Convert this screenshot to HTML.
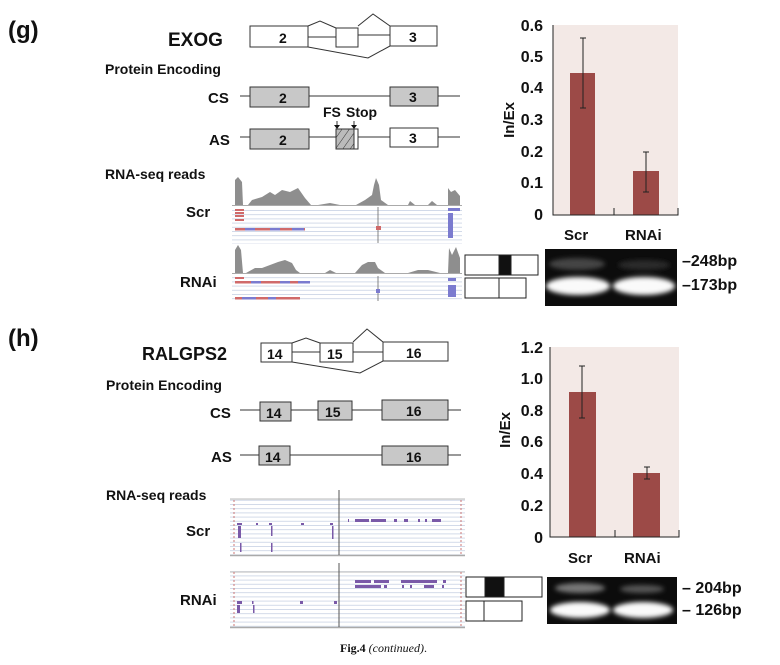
<!DOCTYPE html>
<html><head><meta charset="utf-8"><style>
html,body{margin:0;padding:0;background:#fff}
svg{display:block}
text{font-family:"Liberation Sans",Arial,sans-serif;font-weight:bold;fill:#111}
</style></head><body>
<svg width="780" height="665" viewBox="0 0 780 665" xmlns="http://www.w3.org/2000/svg">
<defs>
<pattern id="hl" width="10" height="4.2" patternUnits="userSpaceOnUse"><rect width="10" height="4.2" fill="#fff"/><line x1="0" y1="0.5" x2="10" y2="0.5" stroke="#c8d2e4" stroke-width="0.8"/></pattern>
<pattern id="hatch" width="6" height="6" patternUnits="userSpaceOnUse" patternTransform="rotate(35)"><rect width="6" height="6" fill="#bbb"/><line x1="0" y1="0" x2="0" y2="6" stroke="#333" stroke-width="1"/></pattern>
<filter id="blur" x="-30%" y="-80%" width="160%" height="260%"><feGaussianBlur stdDeviation="2.5"/></filter>
</defs>

<!-- (g) -->
<text x="8" y="38" font-size="24">(g)</text>
<text x="168" y="46" font-size="19">EXOG</text>
<g stroke="#333" stroke-width="1" fill="#fff">
<rect x="250" y="26" width="58" height="21"/>
<rect x="336" y="28" width="22" height="19"/>
<rect x="390" y="26" width="47" height="20"/>
<polyline fill="none" points="308,26 320,21 336,28"/>
<line x1="308" y1="37" x2="336" y2="37"/><line x1="358" y1="35" x2="390" y2="35"/>
<polyline fill="none" points="358,26 373,14 390,26"/>
<polyline fill="none" points="308,47 368,58 390,46"/>
</g>
<text x="105" y="74" font-size="14">Protein Encoding</text>
<text x="208" y="103" font-size="15">CS</text>
<text x="209" y="145" font-size="15">AS</text>
<g stroke="#333" stroke-width="1">
<line x1="240" y1="96" x2="460" y2="96"/>
<rect x="250" y="87" width="59" height="20" fill="#c8c8c8"/>
<rect x="390" y="87" width="48" height="19" fill="#c8c8c8"/>
<line x1="240" y1="137" x2="460" y2="137"/>
<rect x="250" y="129" width="59" height="20" fill="#c8c8c8"/>
<rect x="336" y="129" width="22" height="20" fill="#fff"/>
<rect x="336" y="129" width="18" height="20" fill="url(#hatch)"/>
<rect x="390" y="128" width="48" height="19" fill="#fff"/>
<line x1="337" y1="121" x2="337" y2="127"/><line x1="354" y1="121" x2="354" y2="127"/>
</g>
<polygon points="334,125 340,125 337,129" fill="#111"/><polygon points="351,125 357,125 354,129" fill="#111"/>
<text x="279" y="103" font-size="14">2</text><text x="409" y="102" font-size="14">3</text>
<text x="279" y="145" font-size="14">2</text><text x="409" y="143" font-size="14">3</text>
<text x="279" y="43" font-size="14">2</text><text x="409" y="42" font-size="14">3</text>
<text x="323" y="117" font-size="14">FS</text><text x="346" y="117" font-size="14">Stop</text>
<text x="105" y="179" font-size="14">RNA-seq reads</text>
<text x="186" y="217" font-size="15">Scr</text>
<text x="180" y="287" font-size="15">RNAi</text>

<!-- IGV g -->
<rect x="232" y="207" width="230" height="37" fill="url(#hl)"/>
<rect x="232" y="276" width="230" height="26" fill="url(#hl)"/>
<g fill="#8e8e8e">
<polygon points="235,205 235,180 238,177 242,182 243,205"/>
<polygon points="248,205 252,200 262,197 270,192 275,195 282,190 290,192 298,188 305,198 311,205"/>
<polygon points="318,205 330,203 340,205"/>
<polygon points="356,205 365,200 372,195 374,185 376,178 379,185 381,200 388,205"/>
<polygon points="408,205 410,201 415,205"/><polygon points="428,205 432,201 437,205"/>
<polygon points="448,205 448,188 451,192 455,190 460,196 460,205"/>
<polygon points="235,273 235,250 238,245 241,250 243,273"/>
<polygon points="246,273 255,268 262,268 270,265 278,262 285,260 292,263 296,270 300,273"/>
<polygon points="325,273 330,270 336,273"/><polygon points="355,273 362,265 368,262 375,262 378,268 385,273"/>
<polygon points="408,273 418,270 428,270 440,273"/>
<polygon points="448,273 449,248 452,255 456,247 460,258 460,273"/>
</g>
<line x1="232" y1="205.5" x2="462" y2="205.5" stroke="#aaa"/><line x1="232" y1="273.5" x2="462" y2="273.5" stroke="#aaa"/>
<line x1="378" y1="207" x2="378" y2="243" stroke="#666" stroke-width="0.8"/>
<line x1="378" y1="276" x2="378" y2="301" stroke="#666" stroke-width="0.8"/>
<g fill="#d06a6a">
<rect x="235" y="209" width="9" height="2"/><rect x="235" y="212" width="9" height="2"/><rect x="235" y="215" width="9" height="2"/><rect x="235" y="219" width="9" height="2"/>
<rect x="235" y="228" width="70" height="2.5"/><rect x="376" y="226" width="5" height="4"/>
<rect x="235" y="277" width="9" height="2"/><rect x="235" y="281" width="75" height="2.5"/><rect x="235" y="297" width="65" height="2.5"/>
</g>
<g fill="#7b7bcf">
<rect x="245" y="228" width="10" height="2.5"/><rect x="270" y="228" width="10" height="2.5"/><rect x="292" y="228" width="12" height="2.5"/>
<rect x="251" y="281" width="10" height="2.5"/><rect x="280" y="281" width="10" height="2.5"/><rect x="298" y="281" width="12" height="2.5"/>
<rect x="242" y="297" width="14" height="2.5"/><rect x="268" y="297" width="8" height="2.5"/><rect x="376" y="289" width="4" height="4"/>
<rect x="448" y="208" width="12" height="3"/><rect x="448" y="278" width="8" height="3"/><rect x="448" y="285" width="8" height="12"/>
<rect x="448" y="213" width="5" height="25"/>
</g>

<!-- chart g -->
<rect x="553" y="25" width="125" height="190" fill="#f3e9e6"/>
<g font-size="16">
<text x="543" y="31" text-anchor="end">0.6</text><text x="543" y="62" text-anchor="end">0.5</text>
<text x="543" y="93" text-anchor="end">0.4</text><text x="543" y="125" text-anchor="end">0.3</text>
<text x="543" y="157" text-anchor="end">0.2</text><text x="543" y="188" text-anchor="end">0.1</text>
<text x="543" y="220" text-anchor="end">0</text>
</g>
<text transform="translate(514,120) rotate(-90)" font-size="15" text-anchor="middle">In/Ex</text>
<rect x="570" y="73" width="25" height="142" fill="#9c4a47"/>
<rect x="633" y="171" width="26" height="44" fill="#9c4a47"/>
<g stroke="#222" stroke-width="1">
<line x1="583" y1="38" x2="583" y2="108"/><line x1="580" y1="38" x2="586" y2="38"/><line x1="580" y1="108" x2="586" y2="108"/>
<line x1="646" y1="152" x2="646" y2="192"/><line x1="643" y1="152" x2="649" y2="152"/><line x1="643" y1="192" x2="649" y2="192"/>
<polyline fill="none" points="553,25 553,215 678,215 678,208"/><line x1="614" y1="215" x2="614" y2="208"/>
</g>
<text x="564" y="240" font-size="15">Scr</text><text x="625" y="240" font-size="15">RNAi</text>
<rect x="545" y="249" width="132" height="57" fill="#0c0c0c"/>
<g filter="url(#blur)">
<ellipse cx="577" cy="264" rx="28" ry="6" fill="#444"/><ellipse cx="644" cy="265" rx="26" ry="5" fill="#2a2a2a"/>
<ellipse cx="578" cy="286" rx="32" ry="9" fill="#fafafa"/><ellipse cx="644" cy="286" rx="31" ry="9" fill="#fafafa"/>
</g>
<text x="682" y="266" font-size="16">–248bp</text><text x="682" y="290" font-size="16">–173bp</text>
<g stroke="#222" stroke-width="1" fill="#fff">
<rect x="465" y="255" width="73" height="20"/><rect x="499" y="255" width="12" height="20" fill="#111"/>
<rect x="465" y="278" width="61" height="20"/><line x1="499" y1="278" x2="499" y2="298"/>
</g>

<!-- (h) -->
<text x="8" y="346" font-size="24">(h)</text>
<text x="142" y="360" font-size="18">RALGPS2</text>
<g stroke="#333" stroke-width="1" fill="#fff">
<rect x="261" y="343" width="31" height="19"/><rect x="320" y="343" width="33" height="19"/><rect x="383" y="342" width="65" height="19"/>
<line x1="292" y1="352" x2="320" y2="352"/><line x1="353" y1="352" x2="383" y2="352"/>
<polyline fill="none" points="292,343 306,338 320,343"/>
<polyline fill="none" points="353,342 367,329 383,342"/>
<polyline fill="none" points="292,362 360,373 383,361"/>
</g>
<text x="267" y="359" font-size="14">14</text><text x="327" y="359" font-size="14">15</text><text x="406" y="358" font-size="14">16</text>
<text x="106" y="390" font-size="14">Protein Encoding</text>
<text x="210" y="418" font-size="15">CS</text><text x="211" y="462" font-size="15">AS</text>
<g stroke="#333" stroke-width="1" fill="#c8c8c8">
<line x1="240" y1="410" x2="461" y2="410"/><line x1="240" y1="455" x2="461" y2="455"/>
<rect x="260" y="402" width="31" height="19"/><rect x="318" y="401" width="34" height="19"/><rect x="382" y="400" width="66" height="20"/>
<rect x="259" y="446" width="31" height="19"/><rect x="382" y="446" width="66" height="19"/>
</g>
<text x="266" y="418" font-size="14">14</text><text x="325" y="417" font-size="14">15</text><text x="406" y="416" font-size="14">16</text>
<text x="265" y="462" font-size="14">14</text><text x="406" y="462" font-size="14">16</text>
<text x="106" y="500" font-size="14">RNA-seq reads</text>
<text x="186" y="536" font-size="15">Scr</text><text x="180" y="605" font-size="15">RNAi</text>

<!-- IGV h -->
<rect x="230" y="497" width="235" height="58" fill="url(#hl)"/>
<rect x="230" y="570" width="235" height="57" fill="url(#hl)"/>
<line x1="230" y1="555.5" x2="465" y2="555.5" stroke="#aaa" stroke-width="1.5"/>
<line x1="230" y1="627.5" x2="465" y2="627.5" stroke="#aaa" stroke-width="1.5"/>
<line x1="230" y1="499" x2="465" y2="499" stroke="#bbb"/><line x1="230" y1="572" x2="465" y2="572" stroke="#bbb"/>
<line x1="339" y1="490" x2="339" y2="555" stroke="#555"/><line x1="339" y1="563" x2="339" y2="627" stroke="#555"/>
<line x1="234" y1="500" x2="234" y2="555" stroke="#c77" stroke-dasharray="2,2"/><line x1="234" y1="572" x2="234" y2="627" stroke="#c77" stroke-dasharray="2,2"/>
<line x1="461" y1="500" x2="461" y2="555" stroke="#c77" stroke-dasharray="2,2"/><line x1="461" y1="572" x2="461" y2="627" stroke="#c77" stroke-dasharray="2,2"/>
<g fill="#7a5aa8">
<rect x="348" y="519" width="1" height="3"/><rect x="355" y="519" width="14" height="3"/><rect x="371" y="519" width="15" height="3"/><rect x="394" y="519" width="3" height="3"/><rect x="404" y="519" width="4" height="3"/><rect x="418" y="519" width="2" height="3"/><rect x="425" y="519" width="2" height="3"/><rect x="432" y="519" width="9" height="3"/>
<rect x="237" y="523" width="5" height="2"/><rect x="256" y="523" width="2" height="2"/><rect x="269" y="523" width="3" height="2"/><rect x="301" y="523" width="3" height="2"/><rect x="330" y="523" width="3" height="2"/>
<rect x="238" y="526" width="3" height="12"/><rect x="271" y="526" width="1.5" height="10"/><rect x="332" y="526" width="1.5" height="13"/>
<rect x="240" y="543" width="1.5" height="9"/><rect x="271" y="543" width="1.5" height="9"/>
<rect x="355" y="580" width="16" height="3"/><rect x="374" y="580" width="15" height="3"/><rect x="401" y="580" width="36" height="3"/><rect x="443" y="580" width="3" height="3"/>
<rect x="355" y="585" width="26" height="3"/><rect x="384" y="585" width="3" height="3"/><rect x="402" y="585" width="2" height="3"/><rect x="410" y="585" width="2" height="3"/><rect x="424" y="585" width="10" height="3"/><rect x="442" y="585" width="2" height="3"/>
<rect x="237" y="601" width="5" height="3"/><rect x="252" y="601" width="1.5" height="3"/><rect x="300" y="601" width="3" height="3"/><rect x="334" y="601" width="3" height="3"/>
<rect x="237" y="605" width="3" height="8"/><rect x="253" y="605" width="1.5" height="8"/>
</g>

<!-- chart h -->
<rect x="550" y="347" width="129" height="190" fill="#f3e9e6"/>
<g font-size="16">
<text x="543" y="353" text-anchor="end">1.2</text><text x="543" y="384" text-anchor="end">1.0</text>
<text x="543" y="416" text-anchor="end">0.8</text><text x="543" y="447" text-anchor="end">0.6</text>
<text x="543" y="479" text-anchor="end">0.4</text><text x="543" y="511" text-anchor="end">0.2</text>
<text x="543" y="543" text-anchor="end">0</text>
</g>
<text transform="translate(510,430) rotate(-90)" font-size="15" text-anchor="middle">In/Ex</text>
<rect x="569" y="392" width="27" height="145" fill="#9c4a47"/>
<rect x="633" y="473" width="27" height="64" fill="#9c4a47"/>
<g stroke="#222" stroke-width="1">
<line x1="582" y1="366" x2="582" y2="418"/><line x1="579" y1="366" x2="585" y2="366"/><line x1="579" y1="418" x2="585" y2="418"/>
<line x1="647" y1="467" x2="647" y2="479"/><line x1="644" y1="467" x2="650" y2="467"/><line x1="644" y1="479" x2="650" y2="479"/>
<polyline fill="none" points="550,347 550,537 679,537 679,530"/><line x1="615" y1="537" x2="615" y2="530"/>
</g>
<text x="568" y="563" font-size="15">Scr</text><text x="624" y="563" font-size="15">RNAi</text>
<rect x="547" y="577" width="130" height="47" fill="#0c0c0c"/>
<g filter="url(#blur)">
<ellipse cx="580" cy="588" rx="25" ry="5" fill="#777"/><ellipse cx="642" cy="589" rx="22" ry="4" fill="#555"/>
<ellipse cx="580" cy="610" rx="30" ry="8" fill="#fafafa"/><ellipse cx="643" cy="610" rx="30" ry="8" fill="#fafafa"/>
</g>
<text x="682" y="593" font-size="16">– 204bp</text><text x="682" y="615" font-size="16">– 126bp</text>
<g stroke="#222" stroke-width="1" fill="#fff">
<rect x="466" y="577" width="76" height="20"/><rect x="485" y="577" width="19" height="20" fill="#111"/>
<rect x="466" y="601" width="56" height="20"/><line x1="484" y1="601" x2="484" y2="621"/>
</g>

<text x="340" y="652" font-size="12" style="font-family:'Liberation Serif',serif;font-weight:bold">Fig.4 <tspan font-style="italic" font-weight="normal">(continued)</tspan><tspan font-weight="normal">.</tspan></text>
</svg>
</body></html>
